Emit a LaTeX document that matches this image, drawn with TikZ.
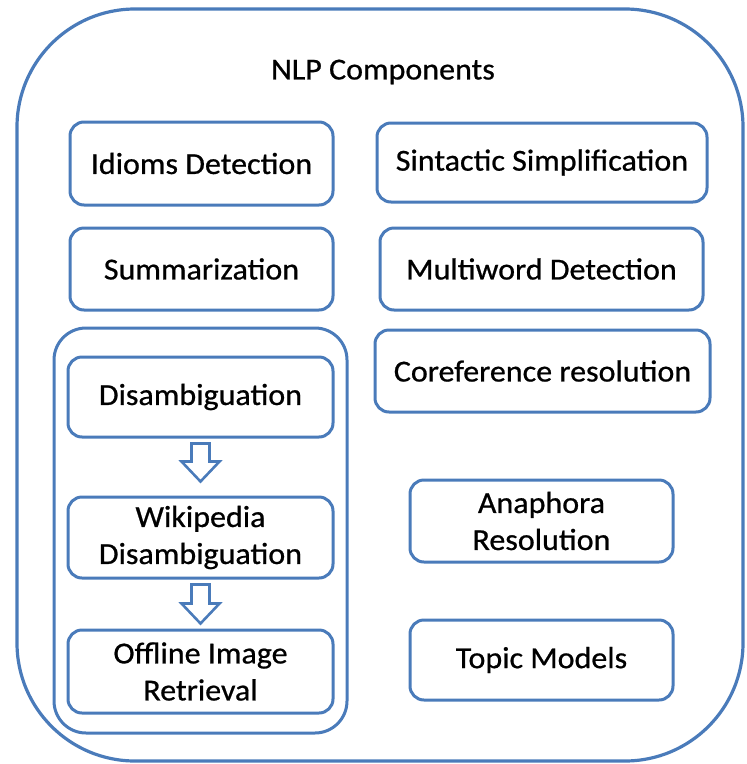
\documentclass[tikz,border=0pt]{standalone}
\usepackage{fontspec}
\setmainfont{Carlito}[FakeStretch=1.05, FakeBold=0.7]
\usetikzlibrary{calc}

\begin{document}
\begin{tikzpicture}[x=1pt, y=-1pt]
    \definecolor{boxBlue}{HTML}{4A7BBA}

    \tikzset{
        compBox/.style={draw=boxBlue, line width=3pt, rounded corners=14pt, fill=white,
            align=center, inner sep=2pt, font=\fontsize{30.5}{37}\selectfont},
        hollowArrow/.style={draw=boxBlue, line width=2.6pt, line join=miter,
            to path={let \p1=(\tikztostart), \p2=(\tikztotarget) in
                (\x1-9pt,\y1) -- (\x1+9pt,\y1) -- (\x1+9pt,\y2+20pt) -- (\x1+19pt,\y2+20pt)
                -- (\x1,\y2) -- (\x1-19pt,\y2+20pt) -- (\x1-9pt,\y2+20pt) -- cycle}}
    }

    \useasboundingbox (0,0) rectangle (747,764);

    % Outer frame and title
    \draw[boxBlue, line width=3.2pt, rounded corners=118pt] (17,9) rectangle (743,761);
    \node[font=\fontsize{30.5}{34}\selectfont] (title) at (383,72) {NLP Components};

    % Group of the disambiguation chain
    \draw[boxBlue, line width=3pt, rounded corners=32pt] (54,328) rectangle (347,733);

    % Left column
    \node[compBox, minimum width=263pt, minimum height=83pt] (idioms) at (201.5,163.5) {Idioms Detection};
    \node[compBox, minimum width=263pt, minimum height=82pt] (summ) at (201.5,269) {Summarization};
    \node[compBox, minimum width=265pt, minimum height=80pt] (disamb) at (200.5,397) {Disambiguation};
    \node[compBox, minimum width=265pt, minimum height=81pt] (wikiDis) at (200.5,537.5) {Wikipedia\\Disambiguation};
    \node[compBox, minimum width=265pt, minimum height=83pt] (offline) at (200.5,671.5) {Offline Image\\Retrieval};

    % Right column
    \node[compBox, minimum width=330pt, minimum height=79pt] (sint) at (542,162.5) {Sintactic Simplification};
    \node[compBox, minimum width=323pt, minimum height=82pt] (multi) at (541.5,269) {Multiword Detection};
    \node[compBox, minimum width=335pt, minimum height=82pt] (coref) at (542.5,371) {Coreference resolution};
    \node[compBox, minimum width=263pt, minimum height=82pt] (anaph) at (541.5,521) {Anaphora\\Resolution};
    \node[compBox, minimum width=263pt, minimum height=80pt] (topic) at (541.5,660) {Topic Models};

    % Block arrows
    \draw[hollowArrow] ([yshift=-5pt]disamb.south) to ([yshift=14pt]wikiDis.north);
    \draw[hollowArrow] ([yshift=-5pt]wikiDis.south) to ([yshift=5pt]offline.north);

\end{tikzpicture}
\end{document}
